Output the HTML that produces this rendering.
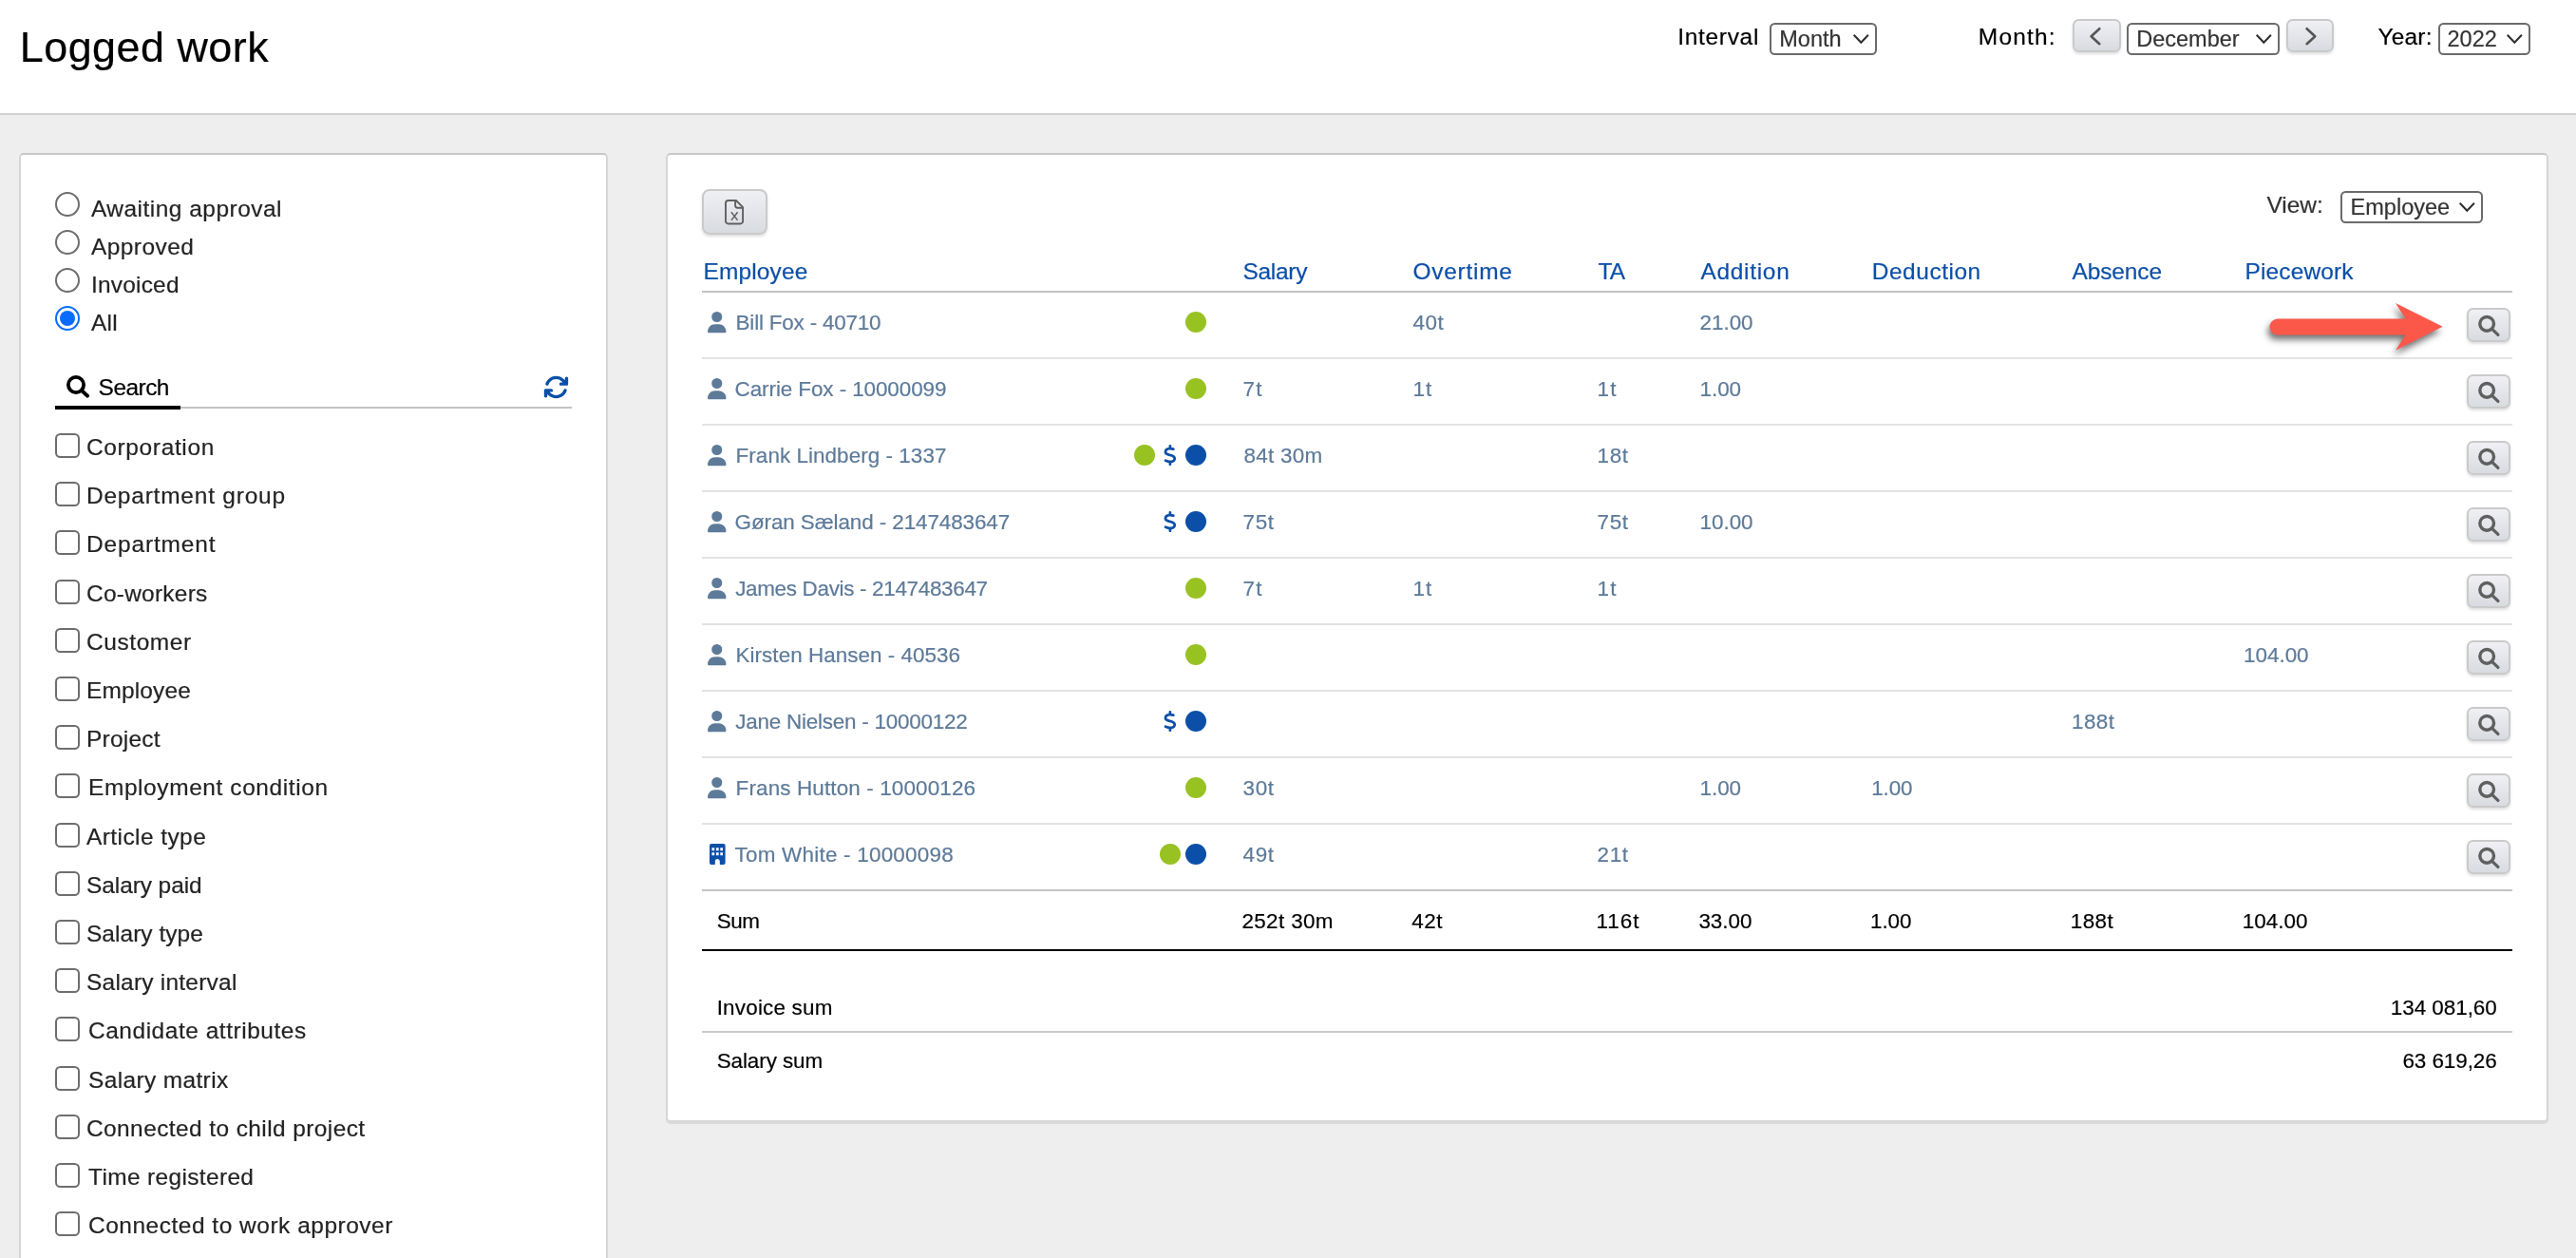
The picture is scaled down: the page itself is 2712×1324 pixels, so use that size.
<!DOCTYPE html>
<html><head><meta charset="utf-8"><title>Logged work</title>
<style>
html,body{margin:0;padding:0}
body{width:2712px;height:1324px;overflow:hidden;position:relative;background:#eeeeee;font-family:"Liberation Sans",sans-serif;}
#page{position:absolute;left:0;top:0;width:2712px;height:1324px;overflow:hidden;will-change:transform}
span{white-space:pre;-webkit-text-stroke:0.2px}

.sel{position:absolute;box-sizing:border-box;border:2px solid #6b6b6b;border-radius:5.5px;background:#fff}
.btn{position:absolute;box-sizing:border-box;border:2px solid #cacacb;border-radius:6.5px;background:linear-gradient(#f0f0f4,#d8dbe0);box-shadow:0 2px 3px rgba(0,0,0,.13)}
.cb{position:absolute;box-sizing:border-box;width:26px;height:26px;border:2px solid #6e6e6e;border-radius:5.5px;background:#fff}
.rb{position:absolute;box-sizing:border-box;width:26px;height:26px;border:2px solid #6e6e6e;border-radius:50%;background:#fff}
.dot{position:absolute;width:22px;height:22px;border-radius:50%}
svg{position:absolute;overflow:visible}

</style></head>
<body>
<div id="page">
<div style="position:absolute;left:0px;top:0px;width:2712px;height:119px;background:#fff;border-bottom:2px solid #d2d2d2"></div>
<span style="position:absolute;left:20.75px;top:21.75px;font-size:44.88px;line-height:56px;color:#000;letter-spacing:0.491px;">Logged work</span>
<span style="position:absolute;left:1766.30px;top:22.50px;font-size:24.48px;line-height:31px;color:#000;letter-spacing:0.683px;">Interval</span>
<span style="position:absolute;left:2082.80px;top:22.50px;font-size:24.48px;line-height:31px;color:#000;letter-spacing:1.202px;">Month:</span>
<span style="position:absolute;left:2503.60px;top:22.50px;font-size:24.48px;line-height:31px;color:#000;letter-spacing:0.150px;">Year:</span>
<div class="sel" style="left:1863.25px;top:24.25px;width:112.25px;height:33.5px"></div>
<span style="position:absolute;left:1873.25px;top:27.00px;font-size:23.5px;line-height:29px;color:#333;letter-spacing:0.000px;">Month</span>
<svg style="left:1950.6000000000001px;top:36.45px" width="16.6" height="9.6" viewBox="0 0 16.6 9.6"><path d="M0.7 0.7 L8.3 8.7 L15.900000000000002 0.7" fill="none" stroke="#2e2e2e" stroke-width="2" stroke-linejoin="miter"/></svg>
<div class="sel" style="left:2239.25px;top:24.25px;width:160.5px;height:33.5px"></div>
<span style="position:absolute;left:2249.25px;top:27.00px;font-size:23.5px;line-height:29px;color:#333;letter-spacing:0.000px;">December</span>
<svg style="left:2374.85px;top:36.45px" width="16.6" height="9.6" viewBox="0 0 16.6 9.6"><path d="M0.7 0.7 L8.3 8.7 L15.900000000000002 0.7" fill="none" stroke="#2e2e2e" stroke-width="2" stroke-linejoin="miter"/></svg>
<div class="sel" style="left:2567.25px;top:24.25px;width:96.25px;height:33.5px"></div>
<span style="position:absolute;left:2576.50px;top:27.00px;font-size:23.5px;line-height:29px;color:#333;letter-spacing:0.000px;">2022</span>
<svg style="left:2638.6px;top:36.45px" width="16.6" height="9.6" viewBox="0 0 16.6 9.6"><path d="M0.7 0.7 L8.3 8.7 L15.900000000000002 0.7" fill="none" stroke="#2e2e2e" stroke-width="2" stroke-linejoin="miter"/></svg>
<div class="btn" style="left:2182.2px;top:19.8px;width:50.5px;height:35.5px"></div>
<svg style="left:2199.7999999999997px;top:29.3px" width="12" height="18.4" viewBox="0 0 12 18.4"><path d="M10.3 1.2 L1.6 9.2 L10.3 17.2" fill="none" stroke="#555" stroke-width="2.6" stroke-linecap="round" stroke-linejoin="round"/></svg>
<div class="btn" style="left:2406.95px;top:19.8px;width:50.5px;height:35.5px"></div>
<svg style="left:2427.35px;top:29.3px" width="12" height="18.4" viewBox="0 0 12 18.4"><path d="M1.6 1.2 L10.3 9.2 L1.6 17.2" fill="none" stroke="#555" stroke-width="2.6" stroke-linecap="round" stroke-linejoin="round"/></svg>
<div style="position:absolute;left:20px;top:161px;width:620px;height:1300px;box-sizing:border-box;background:#fff;border:2px solid #d6d6d6;border-top-color:#c8c8c8;border-radius:5px"></div>
<div class="rb" style="left:58px;top:202px"></div>
<span style="position:absolute;left:96.00px;top:203.75px;font-size:24.48px;line-height:31px;color:#232323;letter-spacing:0.486px;">Awaiting approval</span>
<div class="rb" style="left:58px;top:242px"></div>
<span style="position:absolute;left:96.00px;top:243.75px;font-size:24.48px;line-height:31px;color:#232323;letter-spacing:0.445px;">Approved</span>
<div class="rb" style="left:58px;top:282px"></div>
<span style="position:absolute;left:96.00px;top:283.75px;font-size:24.48px;line-height:31px;color:#232323;letter-spacing:0.193px;">Invoiced</span>
<div class="rb" style="left:58px;top:322px;border-color:#0a6cff"></div>
<div style="position:absolute;left:63px;top:327px;width:16px;height:16px;border-radius:50%;background:#0a6cff"></div>
<span style="position:absolute;left:96.00px;top:323.75px;font-size:24.48px;line-height:31px;color:#232323;letter-spacing:0.239px;">All</span>
<svg style="left:70.4px;top:395.2px" width="24" height="23.6" viewBox="0 0 24 23.6"><circle cx="10" cy="10" r="8.1" fill="none" stroke="#000" stroke-width="3.8"/><path d="M16 16 L22 21.6" stroke="#000" stroke-width="4" stroke-linecap="round"/></svg>
<span style="position:absolute;left:103.60px;top:392.00px;font-size:24.48px;line-height:31px;color:#000;letter-spacing:-0.528px;">Search</span>
<div style="position:absolute;left:58px;top:428px;width:544px;height:2px;background:#c2c2c2"></div>
<div style="position:absolute;left:58px;top:427px;width:132px;height:4px;background:#000"></div>
<svg style="left:572px;top:393.8px" width="27" height="27" viewBox="0 0 512 512"><path fill="#0b4fa8" d="M105.1 202.6c7.700-21.800 20.200-42.300 37.800-59.800c62.500-62.500 163.800-62.500 226.300 0L386.300 160H352c-17.700 0-32 14.300-32 32s14.300 32 32 32H463.500h.4c17.700 0 32-14.300 32-32V80c0-17.700-14.300-32-32-32s-32 14.300-32 32v35.200L414.400 97.600c-87.500-87.500-229.300-87.500-316.800 0C73.200 122 55.600 150.700 44.800 181.400c-5.900 16.700 2.900 34.900 19.500 40.800s34.900-2.900 40.800-19.500zM39 289.300c-5 1.500-9.800 4.200-13.700 8.200c-4 4-6.700 8.800-8.100 14c-.3 1.200-.6 2.500-.8 3.800c-.3 1.700-.4 3.400-.4 5.100V432c0 17.700 14.300 32 32 32s32-14.300 32-32V396.900l17.600 17.500c87.500 87.400 229.300 87.400 316.700 0c24.400-24.400 42.100-53.100 52.900-83.700c5.900-16.700-2.900-34.900-19.500-40.800s-34.900 2.900-40.800 19.500c-7.700 21.800-20.200 42.300-37.800 59.800c-62.500 62.500-163.800 62.500-226.300 0l-.1-.1L125.600 352H160c17.700 0 32-14.300 32-32s-14.300-32-32-32H48.400c-1.600 0-3.200 .1-4.800 .3s-3.100 .5-4.600 1z"/></svg>
<div class="cb" style="left:58px;top:456.0px"></div>
<span style="position:absolute;left:91.00px;top:454.90px;font-size:24.48px;line-height:31px;color:#232323;letter-spacing:0.644px;">Corporation</span>
<div class="cb" style="left:58px;top:507.2px"></div>
<span style="position:absolute;left:91.00px;top:506.10px;font-size:24.48px;line-height:31px;color:#232323;letter-spacing:0.791px;">Department group</span>
<div class="cb" style="left:58px;top:558.4px"></div>
<span style="position:absolute;left:91.00px;top:557.30px;font-size:24.48px;line-height:31px;color:#232323;letter-spacing:0.850px;">Department</span>
<div class="cb" style="left:58px;top:609.6px"></div>
<span style="position:absolute;left:91.00px;top:608.50px;font-size:24.48px;line-height:31px;color:#232323;letter-spacing:0.241px;">Co-workers</span>
<div class="cb" style="left:58px;top:660.8px"></div>
<span style="position:absolute;left:91.00px;top:659.70px;font-size:24.48px;line-height:31px;color:#232323;letter-spacing:0.579px;">Customer</span>
<div class="cb" style="left:58px;top:712.0px"></div>
<span style="position:absolute;left:91.00px;top:710.90px;font-size:24.48px;line-height:31px;color:#232323;letter-spacing:0.148px;">Employee</span>
<div class="cb" style="left:58px;top:763.2px"></div>
<span style="position:absolute;left:91.00px;top:762.10px;font-size:24.48px;line-height:31px;color:#232323;letter-spacing:0.226px;">Project</span>
<div class="cb" style="left:58px;top:814.4px"></div>
<span style="position:absolute;left:93.00px;top:813.30px;font-size:24.48px;line-height:31px;color:#232323;letter-spacing:0.594px;">Employment condition</span>
<div class="cb" style="left:58px;top:865.6px"></div>
<span style="position:absolute;left:91.00px;top:864.50px;font-size:24.48px;line-height:31px;color:#232323;letter-spacing:0.428px;">Article type</span>
<div class="cb" style="left:58px;top:916.8px"></div>
<span style="position:absolute;left:91.00px;top:915.70px;font-size:24.48px;line-height:31px;color:#232323;letter-spacing:-0.077px;">Salary paid</span>
<div class="cb" style="left:58px;top:968.0px"></div>
<span style="position:absolute;left:91.00px;top:966.90px;font-size:24.48px;line-height:31px;color:#232323;letter-spacing:0.042px;">Salary type</span>
<div class="cb" style="left:58px;top:1019.2px"></div>
<span style="position:absolute;left:91.00px;top:1018.10px;font-size:24.48px;line-height:31px;color:#232323;letter-spacing:0.236px;">Salary interval</span>
<div class="cb" style="left:58px;top:1070.4px"></div>
<span style="position:absolute;left:93.00px;top:1069.30px;font-size:24.48px;line-height:31px;color:#232323;letter-spacing:0.536px;">Candidate attributes</span>
<div class="cb" style="left:58px;top:1121.6px"></div>
<span style="position:absolute;left:93.00px;top:1120.50px;font-size:24.48px;line-height:31px;color:#232323;letter-spacing:0.367px;">Salary matrix</span>
<div class="cb" style="left:58px;top:1172.8px"></div>
<span style="position:absolute;left:91.00px;top:1171.70px;font-size:24.48px;line-height:31px;color:#232323;letter-spacing:0.409px;">Connected to child project</span>
<div class="cb" style="left:58px;top:1224.0px"></div>
<span style="position:absolute;left:93.00px;top:1222.90px;font-size:24.48px;line-height:31px;color:#232323;letter-spacing:0.348px;">Time registered</span>
<div class="cb" style="left:58px;top:1275.2px"></div>
<span style="position:absolute;left:93.00px;top:1274.10px;font-size:24.48px;line-height:31px;color:#232323;letter-spacing:0.520px;">Connected to work approver</span>
<div style="position:absolute;left:701px;top:161px;width:1982px;height:1020px;box-sizing:border-box;background:#fff;border:2px solid #d6d6d6;border-top-color:#c8c8c8;border-bottom-color:#d8d8d8;border-radius:5px;box-shadow:0 2px 0 #dadada"></div>
<div class="btn" style="left:739px;top:199px;width:69px;height:47.5px;border-radius:8px"></div>
<svg style="left:763.1px;top:209.9px" width="20.1" height="26.5" viewBox="0 0 20.1 26.5"><path d="M3.8 1 H12 L19.1 8.1 V22.7 a2.8 2.8 0 0 1 -2.8 2.8 H3.8 a2.8 2.8 0 0 1 -2.8 -2.8 V3.8 a2.8 2.8 0 0 1 2.8 -2.8 Z" fill="none" stroke="#606060" stroke-width="1.9" stroke-linejoin="round"/><path d="M11.1 1.2 V6.3 a2.4 2.4 0 0 0 2.4 2.4 H19" fill="none" stroke="#606060" stroke-width="1.9"/><path d="M6.9 13.3 L13.6 21.9 M13.6 13.3 L6.9 21.9" stroke="#606060" stroke-width="1.5"/></svg>
<span style="position:absolute;left:2386.50px;top:199.75px;font-size:24.48px;line-height:31px;color:#333;letter-spacing:-0.038px;">View:</span>
<div class="sel" style="left:2464px;top:201px;width:149.75px;height:33.75px"></div>
<span style="position:absolute;left:2474.60px;top:203.90px;font-size:23.5px;line-height:29px;color:#333;letter-spacing:0.000px;">Employee</span>
<svg style="left:2588.85px;top:213.2px" width="16.6" height="9.6" viewBox="0 0 16.6 9.6"><path d="M0.7 0.7 L8.3 8.7 L15.900000000000002 0.7" fill="none" stroke="#2e2e2e" stroke-width="2" stroke-linejoin="miter"/></svg>
<span style="position:absolute;left:740.50px;top:269.75px;font-size:24.48px;line-height:31px;color:#0b4fa8;letter-spacing:0.148px;">Employee</span>
<span style="position:absolute;left:1308.50px;top:269.75px;font-size:24.48px;line-height:31px;color:#0b4fa8;letter-spacing:-0.284px;">Salary</span>
<span style="position:absolute;left:1487.50px;top:269.75px;font-size:24.48px;line-height:31px;color:#0b4fa8;letter-spacing:0.733px;">Overtime</span>
<span style="position:absolute;left:1682.50px;top:269.75px;font-size:24.48px;line-height:31px;color:#0b4fa8;letter-spacing:-0.911px;">TA</span>
<span style="position:absolute;left:1790.50px;top:269.75px;font-size:24.48px;line-height:31px;color:#0b4fa8;letter-spacing:0.691px;">Addition</span>
<span style="position:absolute;left:1970.75px;top:269.75px;font-size:24.48px;line-height:31px;color:#0b4fa8;letter-spacing:0.533px;">Deduction</span>
<span style="position:absolute;left:2181.50px;top:269.75px;font-size:24.48px;line-height:31px;color:#0b4fa8;letter-spacing:-0.104px;">Absence</span>
<span style="position:absolute;left:2363.50px;top:269.75px;font-size:24.48px;line-height:31px;color:#0b4fa8;letter-spacing:0.144px;">Piecework</span>
<div style="position:absolute;left:739px;top:306px;width:1906px;height:2px;background:#c2c2c2"></div>
<svg style="left:745px;top:327.8px" width="19.5" height="22.2" viewBox="0 0 448 512"><path fill="#5d7a99" d="M224 256A128 128 0 1 0 224 0a128 128 0 1 0 0 256zm-45.7 48C79.800 304 0 383.800 0 482.300C0 498.700 13.300 512 29.700 512H418.300c16.400 0 29.700-13.300 29.700-29.700C448 383.800 368.200 304 269.700 304H178.300z"/></svg>
<span style="position:absolute;left:774.60px;top:326.00px;font-size:22.44px;line-height:28px;color:#5d7a99;letter-spacing:-0.193px;">Bill Fox - 40710</span>
<div class="dot" style="left:1248.4px;top:327.75px;background:#98c222"></div>
<span style="position:absolute;left:1487.40px;top:326.00px;font-size:22.44px;line-height:28px;color:#5d7a99;letter-spacing:0.600px;">40t</span>
<span style="position:absolute;left:1789.60px;top:326.00px;font-size:22.44px;line-height:28px;color:#5d7a99;letter-spacing:-0.038px;">21.00</span>
<div style="position:absolute;left:739px;top:376px;width:1906px;height:2px;background:#e3e3e3"></div>
<div class="btn" style="left:2597px;top:323.8px;width:46px;height:35.8px"></div>
<svg style="left:2609px;top:331.7px" width="23" height="22.4" viewBox="0 0 23 22.4"><circle cx="9.15" cy="8.85" r="7.35" fill="none" stroke="#5f5f5f" stroke-width="3.4"/><path d="M14.6 14.4 L20.9 20.4" stroke="#5f5f5f" stroke-width="3.3" stroke-linecap="round"/></svg>
<svg style="left:745px;top:397.8px" width="19.5" height="22.2" viewBox="0 0 448 512"><path fill="#5d7a99" d="M224 256A128 128 0 1 0 224 0a128 128 0 1 0 0 256zm-45.7 48C79.800 304 0 383.800 0 482.300C0 498.700 13.300 512 29.700 512H418.300c16.400 0 29.700-13.300 29.700-29.700C448 383.800 368.200 304 269.700 304H178.300z"/></svg>
<span style="position:absolute;left:773.60px;top:396.00px;font-size:22.44px;line-height:28px;color:#5d7a99;letter-spacing:-0.083px;">Carrie Fox - 10000099</span>
<div class="dot" style="left:1248.4px;top:397.75px;background:#98c222"></div>
<span style="position:absolute;left:1308.60px;top:396.00px;font-size:22.44px;line-height:28px;color:#5d7a99;letter-spacing:1.100px;">7t</span>
<span style="position:absolute;left:1487.40px;top:396.00px;font-size:22.44px;line-height:28px;color:#5d7a99;letter-spacing:1.100px;">1t</span>
<span style="position:absolute;left:1681.60px;top:396.00px;font-size:22.44px;line-height:28px;color:#5d7a99;letter-spacing:1.100px;">1t</span>
<span style="position:absolute;left:1789.60px;top:396.00px;font-size:22.44px;line-height:28px;color:#5d7a99;letter-spacing:-0.085px;">1.00</span>
<div style="position:absolute;left:739px;top:446px;width:1906px;height:2px;background:#e3e3e3"></div>
<div class="btn" style="left:2597px;top:393.8px;width:46px;height:35.8px"></div>
<svg style="left:2609px;top:401.7px" width="23" height="22.4" viewBox="0 0 23 22.4"><circle cx="9.15" cy="8.85" r="7.35" fill="none" stroke="#5f5f5f" stroke-width="3.4"/><path d="M14.6 14.4 L20.9 20.4" stroke="#5f5f5f" stroke-width="3.3" stroke-linecap="round"/></svg>
<svg style="left:745px;top:467.8px" width="19.5" height="22.2" viewBox="0 0 448 512"><path fill="#5d7a99" d="M224 256A128 128 0 1 0 224 0a128 128 0 1 0 0 256zm-45.7 48C79.800 304 0 383.800 0 482.300C0 498.700 13.300 512 29.700 512H418.300c16.400 0 29.700-13.300 29.700-29.700C448 383.800 368.200 304 269.700 304H178.300z"/></svg>
<span style="position:absolute;left:774.60px;top:466.00px;font-size:22.44px;line-height:28px;color:#5d7a99;letter-spacing:0.051px;">Frank Lindberg - 1337</span>
<div class="dot" style="left:1248.4px;top:467.75px;background:#0b4fa8"></div>
<svg style="left:1225.05px;top:467.95px" width="13.75" height="22" viewBox="0 0 320 512"><path fill="#0b4fa8" d="M160 0c17.700 0 32 14.300 32 32V67.700c1.600 .2 3.100 .4 4.600 .7c.4 .1 .7 .1 1.100 .2l48 8.800c17.400 3.200 28.900 19.900 25.700 37.200s-19.900 28.900-37.200 25.700l-47.500-8.700c-31.300-4.600-58.900-1.500-78.300 6.200s-27.200 18.300-29 28.100c-2 10.700-.5 16.700 1.200 20.400c1.800 3.900 5.500 8.300 12.800 13.200c16.300 10.700 41.300 17.700 73.700 26.300l2.900 .8c28.600 7.600 63.600 16.800 89.600 33.800c14.200 9.300 27.600 21.900 35.900 39.500c8.500 17.900 10.300 37.900 6.400 59.200c-6.900 38-33.100 63.400-65.600 76.700c-13.700 5.600-28.600 9.200-44.400 11V480c0 17.700-14.300 32-32 32s-32-14.300-32-32V445.100c-.4-.1-.9-.1-1.300-.2l-.2 0c-24.400-3.800-64.500-14.300-91.500-26.300c-16.100-7.200-23.400-26.100-16.200-42.200s26.100-23.400 42.200-16.200c20.900 9.300 55.300 18.500 75.200 21.600c31.900 4.700 58.200 2 76-5.300c16.900-6.900 24.600-16.900 26.800-28.900c1.900-10.600 .4-16.700-1.300-20.400c-1.900-4-5.600-8.400-13-13.300c-16.400-10.700-41.500-17.700-74-26.300l-2.800-.7C119.400 279.300 84.400 270 58.400 253c-14.200-9.300-27.500-22-35.800-39.600c-8.400-17.900-10.100-37.900-6.100-59.200C23.700 116 52.300 91.200 84.800 78.300c13.300-5.300 27.900-8.900 43.200-11V32c0-17.700 14.300-32 32-32z"/></svg>
<div class="dot" style="left:1193.6px;top:467.75px;background:#98c222"></div>
<span style="position:absolute;left:1309.60px;top:466.00px;font-size:22.44px;line-height:28px;color:#5d7a99;letter-spacing:0.248px;">84t 30m</span>
<span style="position:absolute;left:1681.60px;top:466.00px;font-size:22.44px;line-height:28px;color:#5d7a99;letter-spacing:0.600px;">18t</span>
<div style="position:absolute;left:739px;top:516px;width:1906px;height:2px;background:#e3e3e3"></div>
<div class="btn" style="left:2597px;top:463.8px;width:46px;height:35.8px"></div>
<svg style="left:2609px;top:471.7px" width="23" height="22.4" viewBox="0 0 23 22.4"><circle cx="9.15" cy="8.85" r="7.35" fill="none" stroke="#5f5f5f" stroke-width="3.4"/><path d="M14.6 14.4 L20.9 20.4" stroke="#5f5f5f" stroke-width="3.3" stroke-linecap="round"/></svg>
<svg style="left:745px;top:537.8px" width="19.5" height="22.2" viewBox="0 0 448 512"><path fill="#5d7a99" d="M224 256A128 128 0 1 0 224 0a128 128 0 1 0 0 256zm-45.7 48C79.800 304 0 383.800 0 482.300C0 498.700 13.300 512 29.700 512H418.300c16.400 0 29.700-13.300 29.700-29.700C448 383.800 368.200 304 269.700 304H178.300z"/></svg>
<span style="position:absolute;left:773.60px;top:536.00px;font-size:22.44px;line-height:28px;color:#5d7a99;letter-spacing:-0.095px;">Gøran Sæland - 2147483647</span>
<div class="dot" style="left:1248.4px;top:537.75px;background:#0b4fa8"></div>
<svg style="left:1225.05px;top:537.95px" width="13.75" height="22" viewBox="0 0 320 512"><path fill="#0b4fa8" d="M160 0c17.700 0 32 14.300 32 32V67.700c1.600 .2 3.100 .4 4.600 .7c.4 .1 .7 .1 1.100 .2l48 8.800c17.400 3.200 28.900 19.900 25.700 37.200s-19.900 28.900-37.200 25.700l-47.500-8.700c-31.300-4.600-58.900-1.500-78.300 6.200s-27.200 18.300-29 28.100c-2 10.700-.5 16.700 1.200 20.400c1.800 3.900 5.500 8.300 12.800 13.200c16.300 10.700 41.300 17.700 73.700 26.300l2.900 .8c28.600 7.600 63.600 16.800 89.600 33.800c14.200 9.300 27.600 21.900 35.900 39.500c8.500 17.900 10.300 37.900 6.400 59.200c-6.900 38-33.100 63.400-65.600 76.700c-13.700 5.600-28.600 9.200-44.400 11V480c0 17.700-14.300 32-32 32s-32-14.300-32-32V445.100c-.4-.1-.9-.1-1.300-.2l-.2 0c-24.400-3.800-64.500-14.300-91.500-26.300c-16.100-7.200-23.400-26.100-16.200-42.200s26.100-23.400 42.200-16.200c20.900 9.300 55.300 18.500 75.200 21.600c31.900 4.700 58.200 2 76-5.300c16.900-6.900 24.600-16.900 26.800-28.900c1.900-10.600 .4-16.700-1.300-20.400c-1.900-4-5.600-8.400-13-13.300c-16.400-10.700-41.500-17.700-74-26.300l-2.800-.7C119.400 279.300 84.400 270 58.400 253c-14.200-9.300-27.500-22-35.800-39.600c-8.400-17.900-10.100-37.900-6.100-59.200C23.700 116 52.300 91.200 84.800 78.300c13.300-5.300 27.900-8.900 43.200-11V32c0-17.700 14.300-32 32-32z"/></svg>
<span style="position:absolute;left:1308.60px;top:536.00px;font-size:22.44px;line-height:28px;color:#5d7a99;letter-spacing:0.600px;">75t</span>
<span style="position:absolute;left:1681.60px;top:536.00px;font-size:22.44px;line-height:28px;color:#5d7a99;letter-spacing:0.600px;">75t</span>
<span style="position:absolute;left:1789.60px;top:536.00px;font-size:22.44px;line-height:28px;color:#5d7a99;letter-spacing:-0.038px;">10.00</span>
<div style="position:absolute;left:739px;top:586px;width:1906px;height:2px;background:#e3e3e3"></div>
<div class="btn" style="left:2597px;top:533.8px;width:46px;height:35.8px"></div>
<svg style="left:2609px;top:541.7px" width="23" height="22.4" viewBox="0 0 23 22.4"><circle cx="9.15" cy="8.85" r="7.35" fill="none" stroke="#5f5f5f" stroke-width="3.4"/><path d="M14.6 14.4 L20.9 20.4" stroke="#5f5f5f" stroke-width="3.3" stroke-linecap="round"/></svg>
<svg style="left:745px;top:607.8px" width="19.5" height="22.2" viewBox="0 0 448 512"><path fill="#5d7a99" d="M224 256A128 128 0 1 0 224 0a128 128 0 1 0 0 256zm-45.7 48C79.800 304 0 383.800 0 482.300C0 498.700 13.300 512 29.700 512H418.300c16.400 0 29.700-13.300 29.700-29.700C448 383.800 368.200 304 269.700 304H178.300z"/></svg>
<span style="position:absolute;left:774.20px;top:606.00px;font-size:22.44px;line-height:28px;color:#5d7a99;letter-spacing:-0.317px;">James Davis - 2147483647</span>
<div class="dot" style="left:1248.4px;top:607.75px;background:#98c222"></div>
<span style="position:absolute;left:1308.60px;top:606.00px;font-size:22.44px;line-height:28px;color:#5d7a99;letter-spacing:1.100px;">7t</span>
<span style="position:absolute;left:1487.40px;top:606.00px;font-size:22.44px;line-height:28px;color:#5d7a99;letter-spacing:1.100px;">1t</span>
<span style="position:absolute;left:1681.60px;top:606.00px;font-size:22.44px;line-height:28px;color:#5d7a99;letter-spacing:1.100px;">1t</span>
<div style="position:absolute;left:739px;top:656px;width:1906px;height:2px;background:#e3e3e3"></div>
<div class="btn" style="left:2597px;top:603.8px;width:46px;height:35.8px"></div>
<svg style="left:2609px;top:611.7px" width="23" height="22.4" viewBox="0 0 23 22.4"><circle cx="9.15" cy="8.85" r="7.35" fill="none" stroke="#5f5f5f" stroke-width="3.4"/><path d="M14.6 14.4 L20.9 20.4" stroke="#5f5f5f" stroke-width="3.3" stroke-linecap="round"/></svg>
<svg style="left:745px;top:677.8px" width="19.5" height="22.2" viewBox="0 0 448 512"><path fill="#5d7a99" d="M224 256A128 128 0 1 0 224 0a128 128 0 1 0 0 256zm-45.7 48C79.800 304 0 383.800 0 482.300C0 498.700 13.300 512 29.700 512H418.300c16.400 0 29.700-13.300 29.700-29.700C448 383.800 368.200 304 269.700 304H178.300z"/></svg>
<span style="position:absolute;left:774.60px;top:676.00px;font-size:22.44px;line-height:28px;color:#5d7a99;letter-spacing:0.035px;">Kirsten Hansen - 40536</span>
<div class="dot" style="left:1248.4px;top:677.75px;background:#98c222"></div>
<span style="position:absolute;left:2362.00px;top:676.00px;font-size:22.44px;line-height:28px;color:#5d7a99;letter-spacing:-0.011px;">104.00</span>
<div style="position:absolute;left:739px;top:726px;width:1906px;height:2px;background:#e3e3e3"></div>
<div class="btn" style="left:2597px;top:673.8px;width:46px;height:35.8px"></div>
<svg style="left:2609px;top:681.7px" width="23" height="22.4" viewBox="0 0 23 22.4"><circle cx="9.15" cy="8.85" r="7.35" fill="none" stroke="#5f5f5f" stroke-width="3.4"/><path d="M14.6 14.4 L20.9 20.4" stroke="#5f5f5f" stroke-width="3.3" stroke-linecap="round"/></svg>
<svg style="left:745px;top:747.8px" width="19.5" height="22.2" viewBox="0 0 448 512"><path fill="#5d7a99" d="M224 256A128 128 0 1 0 224 0a128 128 0 1 0 0 256zm-45.7 48C79.800 304 0 383.800 0 482.300C0 498.700 13.300 512 29.700 512H418.300c16.400 0 29.700-13.300 29.700-29.700C448 383.800 368.200 304 269.700 304H178.300z"/></svg>
<span style="position:absolute;left:774.20px;top:746.00px;font-size:22.44px;line-height:28px;color:#5d7a99;letter-spacing:-0.227px;">Jane Nielsen - 10000122</span>
<div class="dot" style="left:1248.4px;top:747.75px;background:#0b4fa8"></div>
<svg style="left:1225.05px;top:747.95px" width="13.75" height="22" viewBox="0 0 320 512"><path fill="#0b4fa8" d="M160 0c17.700 0 32 14.300 32 32V67.700c1.600 .2 3.100 .4 4.600 .7c.4 .1 .7 .1 1.100 .2l48 8.800c17.400 3.200 28.900 19.900 25.700 37.200s-19.900 28.900-37.200 25.700l-47.500-8.700c-31.300-4.600-58.900-1.500-78.300 6.200s-27.200 18.300-29 28.100c-2 10.700-.5 16.700 1.200 20.400c1.800 3.900 5.500 8.300 12.800 13.200c16.300 10.700 41.300 17.700 73.700 26.300l2.900 .8c28.600 7.600 63.600 16.800 89.600 33.800c14.200 9.300 27.600 21.900 35.900 39.500c8.500 17.900 10.300 37.900 6.400 59.200c-6.900 38-33.100 63.400-65.600 76.700c-13.700 5.600-28.600 9.200-44.400 11V480c0 17.700-14.300 32-32 32s-32-14.300-32-32V445.100c-.4-.1-.9-.1-1.300-.2l-.2 0c-24.400-3.800-64.500-14.300-91.500-26.300c-16.100-7.200-23.400-26.100-16.200-42.200s26.100-23.400 42.200-16.200c20.900 9.300 55.300 18.500 75.200 21.600c31.900 4.700 58.200 2 76-5.300c16.900-6.900 24.600-16.900 26.800-28.900c1.900-10.600 .4-16.700-1.300-20.400c-1.900-4-5.600-8.400-13-13.300c-16.400-10.700-41.500-17.700-74-26.300l-2.800-.7C119.400 279.300 84.400 270 58.400 253c-14.200-9.300-27.500-22-35.800-39.600c-8.400-17.900-10.100-37.900-6.100-59.200C23.700 116 52.300 91.200 84.800 78.300c13.300-5.300 27.900-8.900 43.200-11V32c0-17.700 14.300-32 32-32z"/></svg>
<span style="position:absolute;left:2181.00px;top:746.00px;font-size:22.44px;line-height:28px;color:#5d7a99;letter-spacing:0.434px;">188t</span>
<div style="position:absolute;left:739px;top:796px;width:1906px;height:2px;background:#e3e3e3"></div>
<div class="btn" style="left:2597px;top:743.8px;width:46px;height:35.8px"></div>
<svg style="left:2609px;top:751.7px" width="23" height="22.4" viewBox="0 0 23 22.4"><circle cx="9.15" cy="8.85" r="7.35" fill="none" stroke="#5f5f5f" stroke-width="3.4"/><path d="M14.6 14.4 L20.9 20.4" stroke="#5f5f5f" stroke-width="3.3" stroke-linecap="round"/></svg>
<svg style="left:745px;top:817.8px" width="19.5" height="22.2" viewBox="0 0 448 512"><path fill="#5d7a99" d="M224 256A128 128 0 1 0 224 0a128 128 0 1 0 0 256zm-45.7 48C79.800 304 0 383.800 0 482.300C0 498.700 13.300 512 29.700 512H418.300c16.400 0 29.700-13.300 29.700-29.700C448 383.800 368.200 304 269.700 304H178.300z"/></svg>
<span style="position:absolute;left:774.60px;top:816.00px;font-size:22.44px;line-height:28px;color:#5d7a99;letter-spacing:0.135px;">Frans Hutton - 10000126</span>
<div class="dot" style="left:1248.4px;top:817.75px;background:#98c222"></div>
<span style="position:absolute;left:1308.60px;top:816.00px;font-size:22.44px;line-height:28px;color:#5d7a99;letter-spacing:0.600px;">30t</span>
<span style="position:absolute;left:1789.60px;top:816.00px;font-size:22.44px;line-height:28px;color:#5d7a99;letter-spacing:-0.085px;">1.00</span>
<span style="position:absolute;left:1970.20px;top:816.00px;font-size:22.44px;line-height:28px;color:#5d7a99;letter-spacing:-0.085px;">1.00</span>
<div style="position:absolute;left:739px;top:866px;width:1906px;height:2px;background:#e3e3e3"></div>
<div class="btn" style="left:2597px;top:813.8px;width:46px;height:35.8px"></div>
<svg style="left:2609px;top:821.7px" width="23" height="22.4" viewBox="0 0 23 22.4"><circle cx="9.15" cy="8.85" r="7.35" fill="none" stroke="#5f5f5f" stroke-width="3.4"/><path d="M14.6 14.4 L20.9 20.4" stroke="#5f5f5f" stroke-width="3.3" stroke-linecap="round"/></svg>
<svg style="left:746.5px;top:887.75px" width="16.6" height="22" viewBox="0 0 16.6 22"><path fill="#0b4fa8" fill-rule="evenodd" d="M2 0 H14.6 a2 2 0 0 1 2 2 V20 a2 2 0 0 1 -2 2 H10.8 V18.4 a2.5 2.5 0 0 0 -5 0 V22 H2 a2 2 0 0 1 -2 -2 V2 a2 2 0 0 1 2 -2 Z M2.50 4.20 h2.7 v3 h-2.7 Z M2.50 9.30 h2.7 v3 h-2.7 Z M6.95 4.20 h2.7 v3 h-2.7 Z M6.95 9.30 h2.7 v3 h-2.7 Z M11.30 4.20 h2.7 v3 h-2.7 Z M11.30 9.30 h2.7 v3 h-2.7 Z"/></svg>
<span style="position:absolute;left:773.60px;top:886.00px;font-size:22.44px;line-height:28px;color:#5d7a99;letter-spacing:0.226px;">Tom White - 10000098</span>
<div class="dot" style="left:1248.4px;top:887.75px;background:#0b4fa8"></div>
<div class="dot" style="left:1221.0px;top:887.75px;background:#98c222"></div>
<span style="position:absolute;left:1308.60px;top:886.00px;font-size:22.44px;line-height:28px;color:#5d7a99;letter-spacing:0.600px;">49t</span>
<span style="position:absolute;left:1681.60px;top:886.00px;font-size:22.44px;line-height:28px;color:#5d7a99;letter-spacing:0.600px;">21t</span>
<div style="position:absolute;left:739px;top:936px;width:1906px;height:2px;background:#c4c4c4"></div>
<div class="btn" style="left:2597px;top:883.8px;width:46px;height:35.8px"></div>
<svg style="left:2609px;top:891.7px" width="23" height="22.4" viewBox="0 0 23 22.4"><circle cx="9.15" cy="8.85" r="7.35" fill="none" stroke="#5f5f5f" stroke-width="3.4"/><path d="M14.6 14.4 L20.9 20.4" stroke="#5f5f5f" stroke-width="3.3" stroke-linecap="round"/></svg>
<span style="position:absolute;left:754.70px;top:956.10px;font-size:22.44px;line-height:28px;color:#000;letter-spacing:-0.444px;">Sum</span>
<span style="position:absolute;left:1307.40px;top:956.10px;font-size:22.44px;line-height:28px;color:#000;letter-spacing:0.370px;">252t 30m</span>
<span style="position:absolute;left:1486.20px;top:956.10px;font-size:22.44px;line-height:28px;color:#000;letter-spacing:0.600px;">42t</span>
<span style="position:absolute;left:1680.40px;top:956.10px;font-size:22.44px;line-height:28px;color:#000;letter-spacing:0.989px;">116t</span>
<span style="position:absolute;left:1788.40px;top:956.10px;font-size:22.44px;line-height:28px;color:#000;letter-spacing:-0.038px;">33.00</span>
<span style="position:absolute;left:1969.00px;top:956.10px;font-size:22.44px;line-height:28px;color:#000;letter-spacing:-0.085px;">1.00</span>
<span style="position:absolute;left:2179.80px;top:956.10px;font-size:22.44px;line-height:28px;color:#000;letter-spacing:0.434px;">188t</span>
<span style="position:absolute;left:2360.80px;top:956.10px;font-size:22.44px;line-height:28px;color:#000;letter-spacing:-0.011px;">104.00</span>
<div style="position:absolute;left:739px;top:999px;width:1906px;height:2px;background:#000"></div>
<span style="position:absolute;left:754.70px;top:1046.60px;font-size:22.44px;line-height:28px;color:#000;letter-spacing:0.197px;">Invoice sum</span>
<span style="position:absolute;left:2516.84px;top:1046.60px;font-size:22.44px;line-height:28px;color:#000;letter-spacing:-0.040px;">134 081,60</span>
<div style="position:absolute;left:739px;top:1085px;width:1906px;height:2px;background:#cacaca"></div>
<span style="position:absolute;left:754.70px;top:1102.70px;font-size:22.44px;line-height:28px;color:#000;letter-spacing:-0.084px;">Salary sum</span>
<span style="position:absolute;left:2529.42px;top:1102.70px;font-size:22.44px;line-height:28px;color:#000;letter-spacing:-0.057px;">63 619,26</span>
<svg style="left:2370px;top:300px;filter:drop-shadow(-2px 5px 3.5px rgba(0,0,0,.55))" width="220" height="90" viewBox="0 0 220 90"><path fill="#fb584a" d="M28 35.4 H162.5 L152 19 L201.6 43.8 L152 68.8 L162.5 52.5 H28 a8.55 8.55 0 0 1 0 -17.1 Z"/></svg>
</div>
</body></html>
